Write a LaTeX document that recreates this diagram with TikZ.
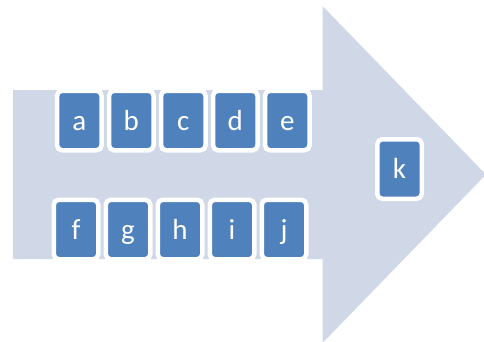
\documentclass[tikz,border=0pt]{standalone}
\usepackage{fontspec}
\setmainfont{Carlito}
\usetikzlibrary{positioning}
\definecolor{arrowfill}{RGB}{208,216,232}
\definecolor{tileblue}{RGB}{79,129,189}
\tikzset{
  tile/.style={
    draw=white,
    fill=tileblue,
    line width=4.5pt,
    rounded corners=5pt,
    outer sep=0pt,
    inner sep=0pt,
    minimum width=44.5pt,
    minimum height=59.5pt,
    text height=23pt,
    text depth=4pt,
    text=white,
    font=\fontsize{29}{29}\selectfont
  },
}

\begin{document}
\begin{tikzpicture}[x=1pt,y=-1pt,node distance=7.5pt]
  \useasboundingbox (0,0) rectangle (484,341);
  % big block arrow behind the tiles
  \fill[arrowfill] (13,90) -- (322.5,90) -- (322.5,6) -- (486,174.5)
    -- (322.5,343) -- (322.5,259) -- (13,259) -- cycle;

  % upper row
  \node[tile] (a) at (79.3,120.5) {a};
  \node[tile,right=of a] (b) {b};
  \node[tile,right=of b] (c) {c};
  \node[tile,right=of c] (d) {d};
  \node[tile,right=of d] (e) {e};

  % lower row
  \node[tile] (f) at (76,229.5) {f};
  \node[tile,right=of f] (g) {g};
  \node[tile,right=of g] (h) {h};
  \node[tile,right=of h] (i) {i};
  \node[tile,right=of i] (j) {j};

  \node[tile] (k) at (399.5,169) {k};
\end{tikzpicture}
\end{document}
